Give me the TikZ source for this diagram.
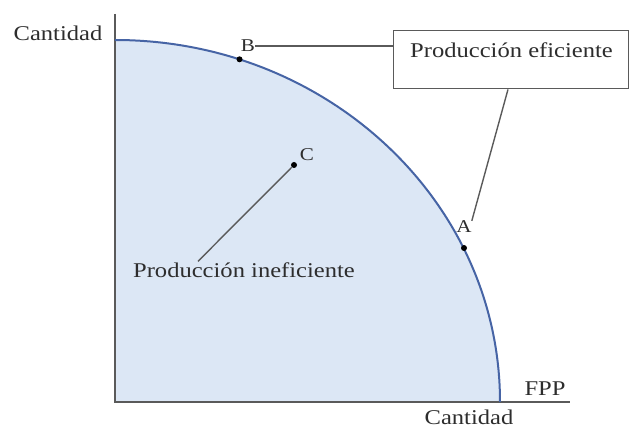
\documentclass[tikz,border=0pt]{standalone}
\usepackage{fontspec}
\setmainfont[FakeStretch=1.17]{Liberation Serif}
\definecolor{txtgray}{RGB}{45,45,45}
\definecolor{axisgray}{RGB}{90,90,90}
\definecolor{curveblue}{RGB}{70,100,165}
\definecolor{fillblue}{RGB}{220,231,245}
\tikzset{
  lbl/.style={font=\fontsize{21}{23}\selectfont, text=txtgray, inner sep=0pt},
  ptlbl/.style={font=\fontsize{18}{20}\selectfont, text=txtgray, inner sep=0pt},
  pdot/.style={circle, fill=black, inner sep=0pt, minimum size=6pt},
  conn/.style={draw=axisgray, line width=1.4pt},
}
\begin{document}
\begin{tikzpicture}[x=1pt,y=1pt]
\useasboundingbox (0,0) rectangle (632,428);
% fill region
\fill[fillblue] (115,26) -- (115,388) arc[start angle=90, end angle=0, x radius=385, y radius=362] -- cycle;
% axes
\draw[axisgray, line width=2pt] (115,414) -- (115,26) -- (570,26);
% curve
\draw[curveblue, line width=2pt] (115,388) arc[start angle=90, end angle=0, x radius=385, y radius=362];
% points
\node[pdot] (B) at (239.5,368.7) {};
\node[pdot] (A) at (464,180) {};
\node[pdot] (C) at (294,263) {};
\node[ptlbl] (Bl) at (248,382) {B};
\node[ptlbl] (Al) at (464,201) {A};
\node[ptlbl] (Cl) at (307,273) {C};
% labels
\node[lbl] (ylab) at (58,395) {Cantidad};
\node[lbl] (xlab) at (469,11) {Cantidad};
\node[lbl] (fpp) at (545,39) {FPP};
% box
\node[draw=axisgray, line width=1.4pt, fill=white, minimum width=235pt, minimum height=58pt, anchor=north west, inner sep=0pt] (box) at (393,398) {};
\node[lbl, anchor=west] (boxt) at (410,378) {Producción eficiente};
\node[lbl] (ineff) at (244,158) {Producción ineficiente};
% connectors
\draw[conn] (Bl.east) -- (box.west |- Bl.east);
\coordinate (bb) at ([xshift=115pt]box.south west);
\draw[conn] (bb) -- (Al.north east);
\coordinate (it) at ([xshift=-46pt,yshift=1pt]ineff.north);
\draw[conn] (C) -- (it);
\end{tikzpicture}
\end{document}
